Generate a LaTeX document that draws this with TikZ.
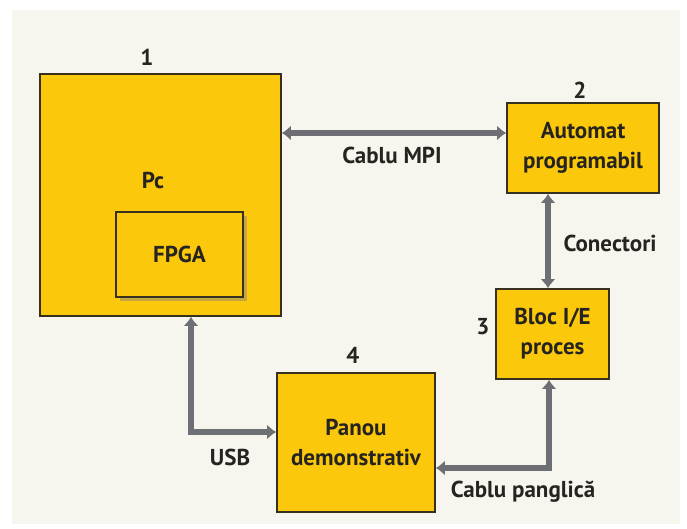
\documentclass[tikz,border=0pt]{standalone}
\usepackage{fontspec}
\setmainfont{PT Sans}
\usepackage{tikz}
\usetikzlibrary{arrows.meta, positioning, calc, shadows}
\definecolor{myyellow}{RGB}{252,200,12}
\definecolor{myedge}{RGB}{55,48,30}
\definecolor{mygray}{RGB}{110,111,116}
\definecolor{mytext}{RGB}{38,36,32}
\definecolor{mypaper}{RGB}{246,245,238}
\tikzset{
  block/.style={draw=myedge, fill=myyellow, rectangle, line width=1.6pt, align=center, text=mytext,
    font=\fontsize{23}{30}\selectfont\bfseries, inner sep=0pt},
  link/.style={draw=mygray, line width=6.5pt, {Latex[length=9pt,width=15pt]}-{Latex[length=9pt,width=15pt]}},
  tag/.style={text=mytext, font=\fontsize{23}{28}\selectfont\bfseries, inner sep=0pt}
}
\begin{document}
\begin{tikzpicture}[x=1pt, y=-1pt]
  \useasboundingbox (0,0) rectangle (687,529);
  \fill [white] (0,0) rectangle (687,529);
  \fill [mypaper] (12,10) rectangle (680,524);

  % blocks
  \node [block, minimum width=241pt, minimum height=242pt] (pc) at (160.5,195) {};
  \node [tag] (pclbl) at (153,180) {Pc};
  \node [block, minimum width=127pt, minimum height=85pt,
         drop shadow={opacity=0.45, shadow xshift=4pt, shadow yshift=-4pt}] (fpga) at (179.5,254.5) {FPGA};
  \node [block, minimum width=152pt, minimum height=90pt] (auto) at (583,148) {Automat\\programabil};
  \node [block, minimum width=113pt, minimum height=90pt] (bloc) at (552.5,334) {Bloc I/E\\proces};
  \node [block, minimum width=158pt, minimum height=139pt] (panou) at (356,442.5) {Panou\\demonstrativ};

  % numbers
  \node [tag] (n1) at (147,57) {1};
  \node [tag] (n2) at (580,90) {2};
  \node [tag] (n3) at (483,327) {3};
  \node [tag] (n4) at (353,355) {4};

  % links
  \draw [link] (pc.east |- 0,133) -- (auto.west |- 0,133);
  \draw [link] (auto.south -| 548,0) -- (bloc.north -| 548,0);
  \draw [link] (pc.south -| 191,0) |- (panou.west |- 0,432);
  \draw [link] (bloc.south -| 549,0) |- (panou.east |- 0,468);

  \node [tag] (mpi) at (392,155) {Cablu MPI};
  \node [tag] (con) at (610,243) {Conectori};
  \node [tag] (usb) at (230,457) {USB};
  \node [tag] (pang) at (523,492) {Cablu panglică};
\end{tikzpicture}
\end{document}
